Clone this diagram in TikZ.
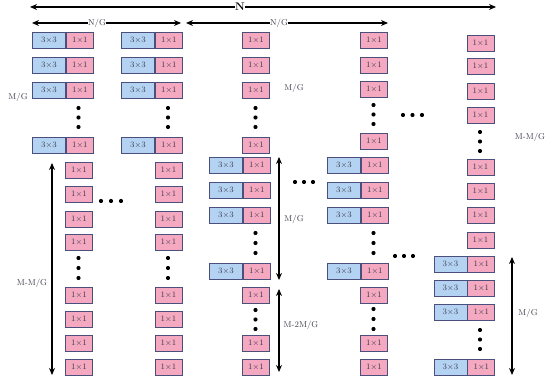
\documentclass[tikz,border=0pt]{standalone}
\usetikzlibrary{arrows.meta}
\definecolor{bluef}{HTML}{B4D3F2}
\definecolor{pinkf}{HTML}{F4A9C1}
\definecolor{edgec}{HTML}{4A4F7C}
\definecolor{txtc}{HTML}{3A3A4A}
\tikzset{
  cell/.style={draw=edgec, line width=0.9pt, inner sep=0pt, minimum height=16pt,
    font=\fontsize{8.3}{9}\selectfont, text=txtc},
  bx/.style={cell, fill=bluef, minimum width=33pt},
  px/.style={cell, fill=pinkf, minimum width=27pt},
  dimarrow/.style={line width=1.2pt, {Stealth[length=7pt,width=6pt]}-{Stealth[length=7pt,width=6pt]}},
  lab/.style={font=\fontsize{8.5}{9}\selectfont, text=txtc, inner sep=1pt},
  onlab/.style={lab, fill=white, inner sep=0.5pt},
}
\newcommand\bp[3]{%
  \node[bx,anchor=north west] (#1b) at (#2,#3) {3$\times$3};
  \node[px,anchor=west] (#1p) at (#1b.east) {1$\times$1};}
\newcommand\pk[3]{%
  \node[px,anchor=north west] (#1) at (#2,#3) {1$\times$1};}
\newcommand\vdotgrp[3]{% x, y1, y3
  \fill (#1,#2) circle (2.1pt) ({#1},{(#2+#3)/2}) circle (2.1pt) (#1,#3) circle (2.1pt);}
\newcommand\hdotgrp[3]{% x1, x3, y
  \fill (#1,#3) circle (2.1pt) ({(#1+#2)/2},#3) circle (2.1pt) (#2,#3) circle (2.1pt);}
\begin{document}
\begin{tikzpicture}[x=1pt,y=-1pt]
\useasboundingbox (0,0) rectangle (550,382);
% ---------- column 1
\foreach \y/\n in {32/a,57/b,82/c,137/d} {\bp{ca\n}{32}{\y}}
\vdotgrp{78.5}{108}{127}
\foreach \y/\n in {162/e,186/f,211/g,234/h,287/i,311/j,335/k,359/l} {\pk{ca\n}{65}{\y}}
\vdotgrp{78.5}{258}{278}
% ---------- column 2
\foreach \y/\n in {32/a,57/b,82/c,137/d} {\bp{cb\n}{121}{\y}}
\vdotgrp{168}{108}{127}
\foreach \y/\n in {162/e,186/f,211/g,234/h,287/i,311/j,335/k,359/l} {\pk{cb\n}{154.5}{\y}}
\vdotgrp{168}{258}{278}
% ---------- column 3
\foreach \y/\n in {32/a,57/b,82/c,137/d} {\pk{cc\n}{242}{\y}}
\vdotgrp{255.5}{108}{127}
\foreach \y/\n in {157/e,182/f,207/g,263/h} {\bp{cc\n}{209}{\y}}
\vdotgrp{255.5}{233}{253}
\foreach \y/\n in {287/i,335/j,359/k} {\pk{cc\n}{242}{\y}}
\vdotgrp{255.5}{310}{329}
% ---------- column 4
\foreach \y/\n in {32/a,57/b,81/c,133/d} {\pk{cd\n}{360}{\y}}
\vdotgrp{373.5}{105}{124}
\foreach \y/\n in {157/e,182/f,207/g,263/h} {\bp{cd\n}{327}{\y}}
\vdotgrp{373.5}{233}{253}
\foreach \y/\n in {287/i,335/j,359/k} {\pk{cd\n}{360}{\y}}
\vdotgrp{373.5}{309}{329}
% ---------- column 5
\foreach \y/\n in {35/a,58/b,83/c,107/d,159/e,183/f,207/g,232/h} {\pk{ce\n}{466.5}{\y}}
\vdotgrp{480}{132}{151}
\foreach \y/\n in {256/i,280/j,304/k,359/l} {\bp{ce\n}{433.5}{\y}}
\vdotgrp{480}{330}{349}
% ---------- horizontal dots
\hdotgrp{101}{121}{201}
\hdotgrp{295}{313}{182}
\hdotgrp{403}{422}{115}
\hdotgrp{395}{413}{256}
% ---------- horizontal dimension arrows
\coordinate (nL) at (30,7);   \coordinate (nR) at (496,7);
\coordinate (g1L) at (32,23); \coordinate (g1R) at (181,23);
\coordinate (g2L) at (186,23);\coordinate (g2R) at (388,23);
\draw[dimarrow] (nL) -- (nR);
\node[onlab, font=\bfseries\fontsize{11}{11}\selectfont, text=black] (nlab) at (240,7) {N};
\draw[dimarrow] (g1L) -- (g1R);
\node[onlab] (g1lab) at (97,23) {N/G};
\draw[dimarrow] (g2L) -- (g2R);
\node[onlab] (g2lab) at (279,23) {N/G};
% ---------- vertical dimension arrows
\coordinate (v1T) at (52,163);  \coordinate (v1B) at (52,375);
\coordinate (v2T) at (279,157); \coordinate (v2B) at (279,280);
\coordinate (v3T) at (279,289); \coordinate (v3B) at (279,372);
\coordinate (v4T) at (512,257); \coordinate (v4B) at (512,375);
\draw[dimarrow] (v1T) -- (v1B);
\draw[dimarrow] (v2T) -- (v2B);
\draw[dimarrow] (v3T) -- (v3B);
\draw[dimarrow] (v4T) -- (v4B);
% ---------- labels
\node[lab] (l1) at (32,283) {M-M/G};
\node[lab] (l2) at (294,219) {M/G};
\node[lab] (l3) at (301,325) {M-2M/G};
\node[lab] (l4) at (528,313) {M/G};
\node[lab] (l5) at (18,97) {M/G};
\node[lab] (l6) at (294,88) {M/G};
\node[lab] (l7) at (530,137) {M-M/G};
\end{tikzpicture}
\end{document}
